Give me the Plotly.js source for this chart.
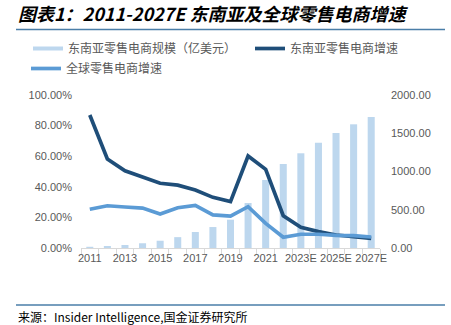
<!DOCTYPE html>
<html>
<head>
<meta charset="utf-8">
<script src="https://cdn.plot.ly/plotly-3.0.1.min.js"></script>
<style>html,body{margin:0;padding:0;background:#fff;}#chart{width:451px;height:325px;}</style>
</head>
<body>
<div id="chart"></div>
<script>
// ---- data ----
var categories = ['2011','2012','2013','2014','2015','2016','2017','2018','2019','2020','2021','2022','2023E','2024E','2025E','2026E','2027E'];
var tickLabels = ['2011','','2013','','2015','','2017','','2019','','2021','','2023E','','2025E','','2027E'];
var seaScale = [16, 26, 39, 62, 95, 142, 209, 274, 370, 588, 889, 1098, 1238, 1376, 1503, 1617, 1712];
var seaGrowth = [86.9, 58.2, 50.5, 46.6, 42.3, 41.1, 37.9, 33.1, 30.3, 60.1, 51.4, 21.1, 13.5, 10.7, 8.5, 7.4, 6.3];
var globalGrowth = [25.3, 27.6, 26.8, 26.1, 22.2, 26.3, 27.9, 21.6, 20.9, 27.0, 16.1, 7.0, 9.0, 9.0, 8.3, 8.1, 7.2];
var leftTickVals = [0, 20, 40, 60, 80, 100];
var leftTickLabels = ['0.00%', '20.00%', '40.00%', '60.00%', '80.00%', '100.00%'];
var rightTickVals = [0, 500, 1000, 1500, 2000];
var rightTickLabels = ['0.00', '500.00', '1000.00', '1500.00', '2000.00'];
var seriesNames = ['东南亚零售电商规模（亿美元）', '东南亚零售电商增速', '全球零售电商增速'];
var titleText = '图表1：2011-2027E 东南亚及全球零售电商增速';
var sourceText = '来源：Insider Intelligence,国金证券研究所';

var CJK = '"Noto Sans CJK SC", "Noto Sans", sans-serif';
var grey = '#595959';

var traces = [
  {type:'bar', x:categories, y:seaScale, yaxis:'y', marker:{color:'#bdd7ee'}, showlegend:false, name:seriesNames[0]},
  {type:'scatter', mode:'lines', x:[null], y:[null], yaxis:'y', line:{color:'#bdd7ee', width:4}, name:seriesNames[0], showlegend:true, legend:'legend'},
  {type:'scatter', mode:'lines', x:categories, y:seaGrowth, yaxis:'y2', line:{color:'#1f4e79', width:3.7}, name:seriesNames[1], legend:'legend2'},
  {type:'scatter', mode:'lines', x:categories, y:globalGrowth, yaxis:'y2', line:{color:'#5b9bd5', width:3.7}, name:seriesNames[2], legend:'legend3'}
];

var W = 451, H = 325, L = 81, R = 71, T = 95, B = 77;
var pw = W - L - R, ph = H - T - B;
function px2x(p){ return (p - L) / pw; }
function py2y(p){ return (H - B - p) / ph; }

function leg(xp, yp){
  return {orientation:'h', x: px2x(xp), xanchor:'left', y: py2y(yp), yanchor:'top',
    font:{family: CJK, size:12, color:grey}, bgcolor:'rgba(0,0,0,0)', itemwidth:30};
}

var layout = {
  width: W, height: H,
  margin: {l:L, r:R, t:T, b:B, pad:0},
  paper_bgcolor:'#fff', plot_bgcolor:'#fff',
  bargap: 0.6,
  showlegend: true,
  font: {family: 'Arial, "Liberation Sans", sans-serif', color: grey, size: 11},
  title: {
    text: titleText, xref:'container', yref:'container', x: 18/W, xanchor:'left', y: 1 - 15/H, yanchor:'middle',
    font: {family: CJK, size: 18, weight: 'bold', style: 'italic', color: '#000'}
  },
  xaxis: {
    type:'category', tickvals: categories, ticktext: tickLabels, tickson:'boundaries', tickangle:0,
    ticks:'outside', ticklen:5, tickcolor:'#d9d9d9', showline:true, linecolor:'#d9d9d9', linewidth:1,
    showgrid:false, zeroline:false, tickfont:{size:11, color:grey}, fixedrange:true
  },
  yaxis: {
    side:'right', range:[0,2000], tickvals: rightTickVals, ticktext: rightTickLabels,
    showgrid:false, zeroline:false, showline:false, ticks:'', ticklabelstandoff: 10,
    tickfont:{size:11, color:grey}
  },
  yaxis2: {
    overlaying:'y', side:'left', range:[0,100], tickvals: leftTickVals, ticktext: leftTickLabels,
    showgrid:false, zeroline:false, showline:false, ticks:'', ticklabelstandoff: 8,
    tickfont:{size:11, color:grey}
  },
  legend: leg(28, 34),
  legend2: leg(250, 34),
  legend3: leg(26, 54),
  shapes: [
    {type:'line', xref:'paper', yref:'paper', x0: px2x(16), x1: px2x(445), y0: py2y(29.5), y1: py2y(29.5), line:{color:'#4a7ea8', width:1.5}},
    {type:'line', xref:'paper', yref:'paper', x0: px2x(16), x1: px2x(445), y0: py2y(305), y1: py2y(305), line:{color:'#4a7ea8', width:1.5}}
  ],
  annotations: [
    {text: sourceText, xref:'paper', yref:'paper', x: px2x(16), y: py2y(316), xanchor:'left', yanchor:'middle', showarrow:false,
     font:{family: CJK, size:12, color:'#000'}}
  ]
};

Plotly.newPlot('chart', traces, layout, {staticPlot:true, displayModeBar:false});
</script>
</body>
</html>
